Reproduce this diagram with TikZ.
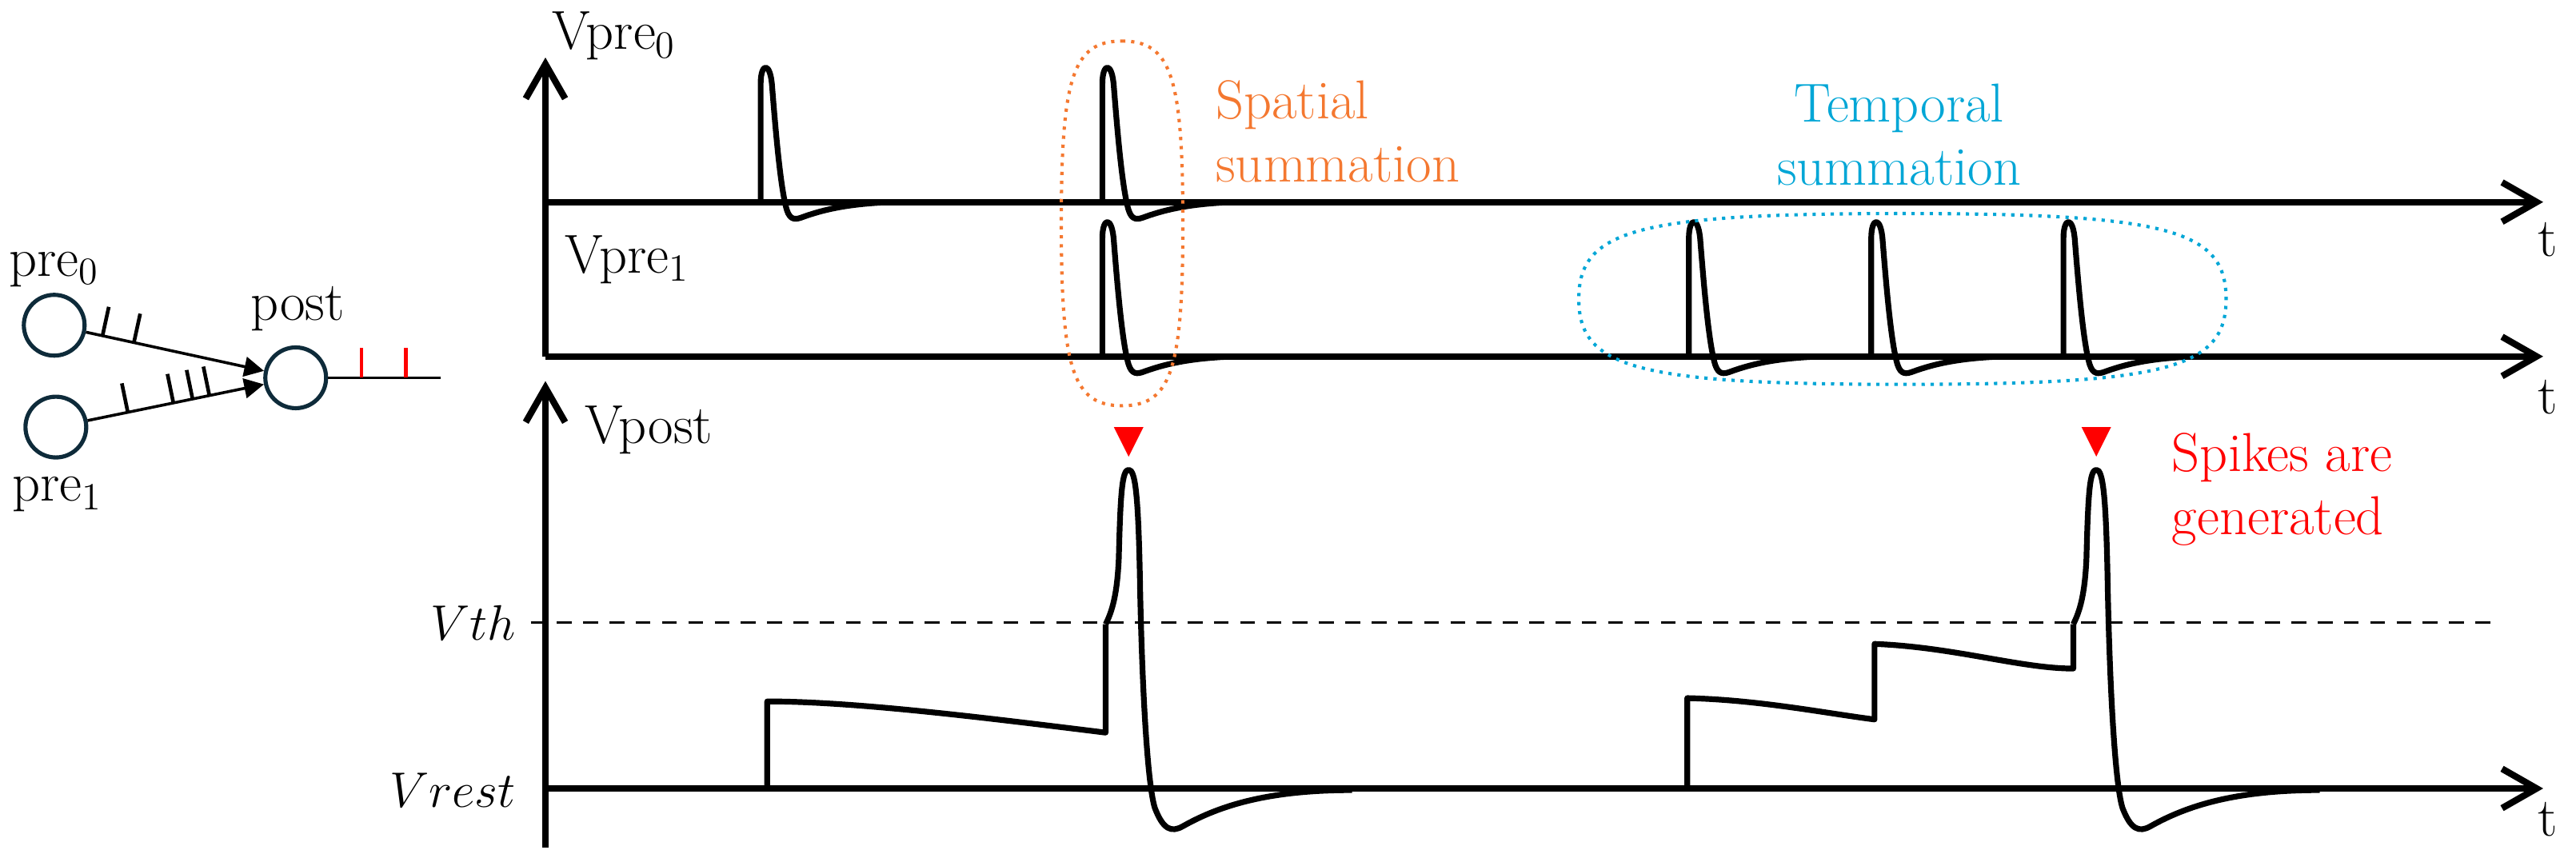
\documentclass[tikz,border=0pt]{standalone}
\usetikzlibrary{arrows.meta,calc}

\definecolor{spatialcolor}{RGB}{244,120,48}
\definecolor{temporalcolor}{RGB}{0,166,214}
\definecolor{neuroncolor}{RGB}{14,43,58}

\tikzset{
  lbl/.style={inner sep=1pt,font=\fontsize{19}{22}\selectfont},
  axis/.style={line width=0.08cm,-{Straight Barb[length=0.42cm,width=0.48cm,line width=0.08cm]}},
  wave/.style={line width=0.07cm,line join=round},
  neuron/.style={circle,draw=neuroncolor,line width=0.05cm,minimum size=0.74cm,inner sep=0pt},
  syn/.style={line width=0.035cm,-{Triangle[length=0.24cm,width=0.24cm]}},
  tick/.style={line width=0.045cm},
  summ/.style={line width=0.04cm,dotted},
}

% presynaptic spike: x of rise, baseline
\newcommand{\prespike}[2]{%
\draw[wave] (#1,#2) -- (#1,{#2-72}) .. controls (#1,{#2-85}) and ({#1+6},{#2-86}) .. ({#1+7},{#2-70})
  .. controls ({#1+9},{#2-45}) and ({#1+12},{#2-8}) .. ({#1+16},{#2+5})
  .. controls ({#1+18},{#2+11}) and ({#1+21},{#2+11}) .. ({#1+26},{#2+9})
  .. controls ({#1+40},{#2+4}) and ({#1+55},{#2+1}) .. ({#1+80},#2);}
% postsynaptic spike from threshold crossing
\newcommand{\postspike}[1]{%
\draw[wave] (#1,380) .. controls ({#1+4},372) and ({#1+7},362) .. ({#1+8},340)
  .. controls ({#1+9},300) and ({#1+10},286) .. ({#1+14},286)
  .. controls ({#1+18},286) and ({#1+20},300) .. ({#1+21},360)
  .. controls ({#1+22.5},430) and ({#1+26},480) .. ({#1+30},492)
  .. controls ({#1+35},505) and ({#1+40},507) .. ({#1+47},503)
  .. controls ({#1+70},490) and ({#1+100},481) .. ({#1+150},481);
\fill[red] ({#1+5},260) -- ({#1+23},260) -- ({#1+14},278) -- cycle;}

\begin{document}
\begin{tikzpicture}[x=0.02cm,y=-0.02cm]
\useasboundingbox (0,0) rectangle (1568,527);

% network
\node[neuron] (pre0) at (33,198) {};
\node[neuron] (pre1) at (34,260) {};
\node[neuron] (post) at (180,230) {};
\node[lbl] (pre0lbl) at (33,164) {pre\textsubscript{0}};
\node[lbl] (pre1lbl) at (35,301) {pre\textsubscript{1}};
\node[lbl] (postlbl) at (181,188) {post};
\draw[syn] (pre0) -- (post);
\draw[syn] (pre1) -- (post);
\foreach \p in {0.20,0.33}
  \draw[tick] ($(pre0)!\p!(post)$) -- ($($(pre0)!\p!(post)$)!0.36cm!90:(post)$);
\foreach \p in {0.30,0.49,0.57,0.64}
  \draw[tick] ($(pre1)!\p!(post)$) -- ($($(pre1)!\p!(post)$)!0.36cm!90:(post)$);
\coordinate (out) at (268,230);
\draw[line width=0.035cm] (post) -- (out);
\foreach \x in {220,247}
  \draw[tick,red] (\x,230) -- (\x,212);

% axes
\coordinate (o0) at (332,123);
\coordinate (o1) at (332,217);
\coordinate (o2) at (332,480);
\coordinate (top0) at (332,35);
\coordinate (top2) at (332,232);
\coordinate (bot2) at (332,516);
\coordinate (end0) at (1548,123);
\coordinate (end1) at (1548,217);
\coordinate (end2) at (1548,480);
\draw[axis] (o1) -- (top0);
\draw[axis] (bot2) -- (top2);
\draw[axis] (o0) -- (end0);
\draw[axis] (o1) -- (end1);
\draw[axis] (o2) -- (end2);
\coordinate (th0) at (323,379);
\coordinate (th1) at (1516,379);
\draw[line width=0.025cm,dash pattern=on 0.18cm off 0.14cm] (th0) -- (th1);

\node[lbl,anchor=west] (vpre0) at (334,22) {Vpre\textsubscript{0}};
\node[lbl,anchor=west] (vpre1) at (342,158) {Vpre\textsubscript{1}};
\node[lbl,anchor=west] (vpost) at (354,262) {Vpost};
\node[lbl,anchor=east] (vth) at (316,379) {$Vth$};
\node[lbl,anchor=east] (vrest) at (316,481) {$Vrest$};
\node[lbl] (t0) at (1551,146) {t};
\node[lbl] (t1) at (1551,242) {t};
\node[lbl] (t2) at (1551,499) {t};

% input spikes
\prespike{463}{123}
\prespike{671}{123}
\foreach \x in {671,1028,1139,1256}{
  \prespike{\x}{217}
}

% membrane potential
\draw[wave] (467,480) -- (467,427) .. controls (520,427) and (600,437) .. (673,446) -- (673,380);
\postspike{673}
\draw[wave] (1027,480) -- (1027,425) .. controls (1070,426) and (1110,434) .. (1141,438) -- (1141,392)
  .. controls (1190,394) and (1230,407) .. (1262,407) -- (1262,380);
\postspike{1262}

% summation marks
\draw[summ,spatialcolor] (683,25) .. controls (713,25) and (720,47) .. (720,136)
  .. controls (720,225) and (713,247) .. (683,247) .. controls (653,247) and (646,225) .. (646,136)
  .. controls (646,47) and (653,25) .. (683,25);
\draw[summ,temporalcolor] (1158,130) .. controls (1320,130) and (1355,140) .. (1355,182)
  .. controls (1355,224) and (1320,234) .. (1158,234) .. controls (996,234) and (961,224) .. (961,182)
  .. controls (961,140) and (996,130) .. (1158,130);
\node[lbl,anchor=west,align=left,text=spatialcolor] (spatial) at (738,80) {Spatial\\summation};
\node[lbl,align=center,text=temporalcolor] (temporal) at (1156,82) {Temporal\\summation};
\node[lbl,anchor=west,align=left,text=red] (spikes) at (1320,298) {Spikes are\\generated};
\end{tikzpicture}
\end{document}
